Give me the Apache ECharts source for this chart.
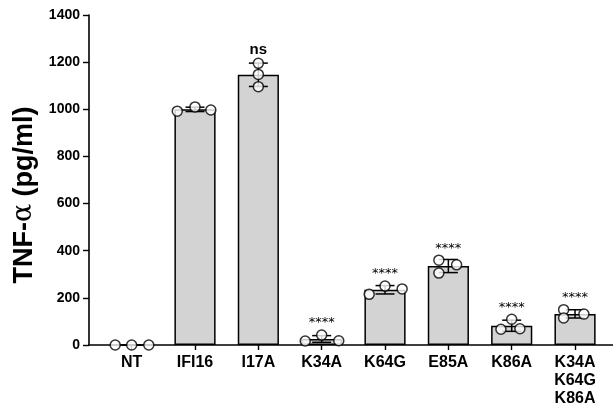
<!DOCTYPE html>
<html>
<head>
<meta charset="utf-8">
<script src="https://cdn.jsdelivr.net/npm/echarts@6/dist/echarts.min.js"></script>
<style>
  html, body { margin: 0; padding: 0; background: #fff; }
  #chart { width: 613px; height: 408px; }
</style>
</head>
<body>
<div id="chart"></div>
<script>
// ---- data ----
const categories = ['NT', 'IFI16', 'I17A', 'K34A', 'K64G', 'E85A', 'K86A', 'K34A\nK64G\nK86A'];
const rep1 = [0, 992, 1195, 17, 215, 360, 67, 150];
const rep2 = [0, 1010, 1148, 42, 250, 305, 109, 115];
const rep3 = [0, 997, 1096, 18, 238, 340, 69, 131];
const significance = ['', '', 'ns', '****', '****', '****', '****', '****'];
const yMin = 0, yMax = 1400, yStep = 200;

// horizontal spread of the replicate dots (category units, layout only)
const spread1 = [-0.26, -0.28, 0, -0.26, -0.25, -0.15, -0.17, -0.18];
const spread2 = [0, 0, 0, 0, 0, -0.15, 0, -0.18];
const spread3 = [0.27, 0.25, 0, 0.27, 0.27, 0.13, 0.13, 0.14];

// ---- derived ----
const reps = categories.map((c, i) => [rep1[i], rep2[i], rep3[i]]);
const means = reps.map(r => r.reduce((a, b) => a + b, 0) / r.length);
const sds = reps.map((r, i) => {
  const m = means[i];
  return Math.sqrt(r.reduce((a, v) => a + (v - m) * (v - m), 0) / (r.length - 1));
});

const dots = [];
categories.forEach((c, i) => {
  dots.push([i + spread1[i], rep1[i]]);
  dots.push([i + spread2[i], rep2[i]]);
  dots.push([i + spread3[i], rep3[i]]);
});
const errData = categories.map((c, i) => [i, means[i] - sds[i], means[i] + sds[i]]);
const sigData = categories.map((c, i) => [i, Math.max(rep1[i], rep2[i], rep3[i]), significance[i]]);

const FONT = '"Liberation Sans", Arial, sans-serif';
const chart = echarts.init(document.getElementById('chart'), null, { renderer: 'canvas' });

const option = {
  backgroundColor: '#fff',
  animation: false,
  grid: [
    { left: 89, right: 0, top: 15, bottom: 63 },
    { left: 100, right: 6.3, top: 15, bottom: 63 }
  ],
  xAxis: [
    {
      type: 'value', gridIndex: 0, min: 0, max: 1,
      axisLine: { show: true, lineStyle: { color: '#000', width: 1.6 } },
      axisTick: { show: false }, axisLabel: { show: false }, splitLine: { show: false }
    },
    {
      type: 'category', gridIndex: 1, data: categories,
      axisLine: { show: false },
      axisTick: { show: true, alignWithLabel: true, length: 5, lineStyle: { color: '#000', width: 1.4 } },
      axisLabel: {
        color: '#000', fontFamily: FONT, fontWeight: 'bold', fontSize: 16,
        lineHeight: 18, margin: 9, interval: 0
      },
      splitLine: { show: false }
    },
    {
      type: 'value', gridIndex: 1, min: -0.5, max: categories.length - 0.5, show: false
    }
  ],
  yAxis: [
    {
      type: 'value', gridIndex: 0, min: yMin, max: yMax, interval: yStep,
      axisLine: { show: true, lineStyle: { color: '#000', width: 1.6 } },
      axisTick: { show: true, length: 6, lineStyle: { color: '#000', width: 1.4 } },
      axisLabel: {
        color: '#000', fontFamily: FONT, fontWeight: 'bold', fontSize: 14, margin: 9,
        formatter: v => String(v)
      },
      splitLine: { show: false },
      name: '{a|TNF-}{b|α}{a| (pg/ml)}',
      nameLocation: 'middle',
      nameGap: 50,
      nameTextStyle: {
        padding: [0, 30, 0, 0],
        rich: {
          a: { fontFamily: FONT, fontWeight: 'bold', fontSize: 27, color: '#000' },
          b: { fontFamily: '"DejaVu Serif", serif', fontWeight: 'normal', fontSize: 27, color: '#000' }
        }
      }
    },
    {
      type: 'value', gridIndex: 1, min: yMin, max: yMax, interval: yStep, show: false
    }
  ],
  series: [
    {
      type: 'bar', xAxisIndex: 1, yAxisIndex: 1,
      data: means, barWidth: '65%',
      itemStyle: { color: '#d3d3d3', borderColor: '#000', borderWidth: 1.5 },
      z: 2
    },
    {
      type: 'custom', xAxisIndex: 2, yAxisIndex: 1,
      data: errData,
      renderItem: function (params, api) {
        const x = api.value(0);
        const lo = api.coord([x, api.value(1)]);
        const hi = api.coord([x, api.value(2)]);
        const w = 9.5;
        const st = { stroke: '#000', lineWidth: 1.5 };
        return {
          type: 'group',
          children: [
            { type: 'line', shape: { x1: lo[0], y1: lo[1], x2: hi[0], y2: hi[1] }, style: st },
            { type: 'line', shape: { x1: lo[0] - w, y1: lo[1], x2: lo[0] + w, y2: lo[1] }, style: st },
            { type: 'line', shape: { x1: hi[0] - w, y1: hi[1], x2: hi[0] + w, y2: hi[1] }, style: st }
          ]
        };
      },
      z: 3
    },
    {
      type: 'scatter', xAxisIndex: 2, yAxisIndex: 1,
      data: dots, symbol: 'circle', symbolSize: 10,
      itemStyle: { color: '#fff', borderColor: '#000', borderWidth: 1.5 },
      z: 4
    },
    {
      type: 'custom', xAxisIndex: 2, yAxisIndex: 1,
      data: sigData,
      silent: true,
      renderItem: function (params, api) {
        const p = api.coord([api.value(0), api.value(1)]);
        const t = significance[params.dataIndex];
        if (!t) return null;
        const isNs = t === 'ns';
        return {
          type: 'text',
          x: p[0], y: p[1] - (isNs ? 13 : 12),
          style: {
            text: t,
            fill: '#000',
            align: 'center',
            verticalAlign: 'middle',
            font: isNs ? 'bold 15px "Liberation Sans", Arial, sans-serif'
                       : 'normal 13px "DejaVu Sans", sans-serif'
          }
        };
      },
      z: 5
    }
  ]
};
chart.setOption(option);
</script>
</body>
</html>
